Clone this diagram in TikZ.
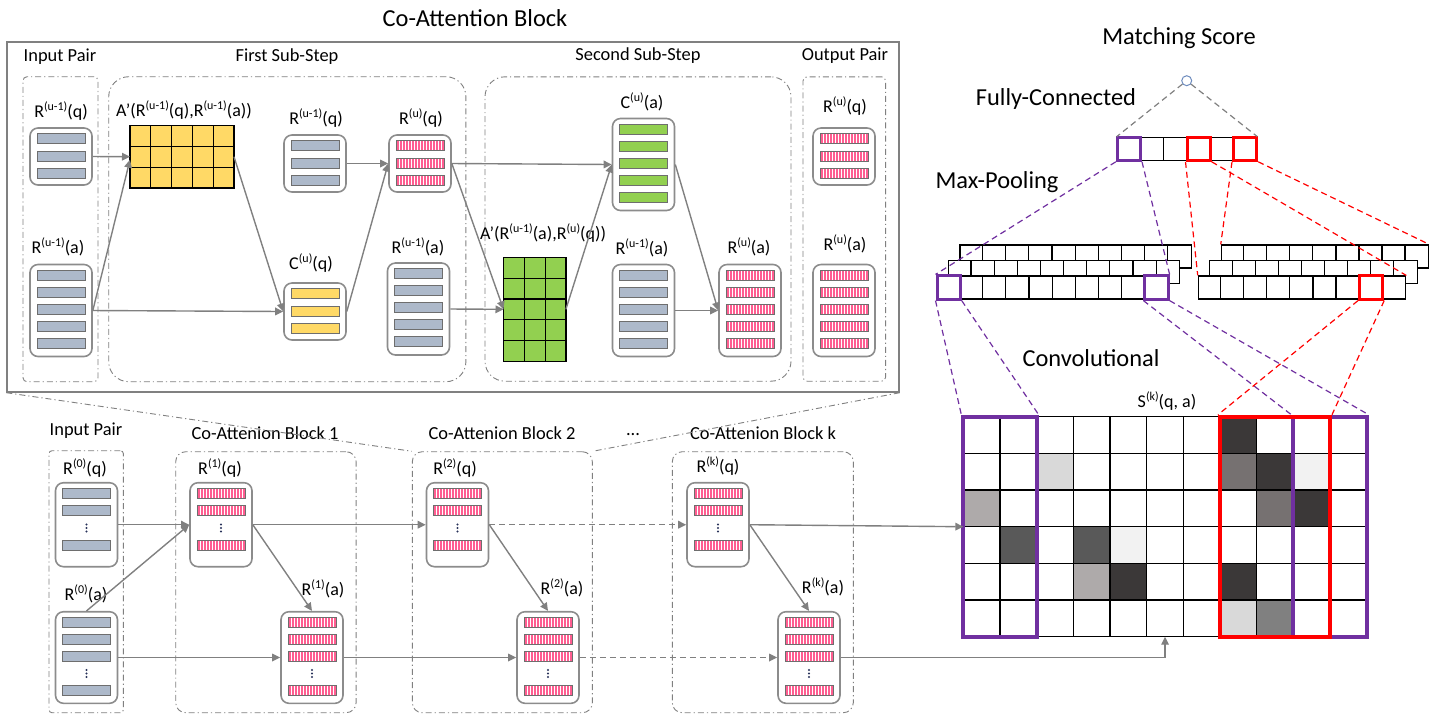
\documentclass[tikz,border=0pt]{standalone}
\usepackage{fontspec}
\setmainfont{Carlito}
\usetikzlibrary{arrows.meta,positioning,calc}
\definecolor{linegray}{RGB}{128,128,128}
\definecolor{boxgray}{RGB}{140,140,140}
\definecolor{bargray}{RGB}{173,185,202}
\definecolor{barline}{RGB}{110,110,110}
\definecolor{yelc}{RGB}{255,217,102}
\definecolor{grnc}{RGB}{146,208,80}
\definecolor{pinkc}{RGB}{255,94,145}
\definecolor{purc}{RGB}{112,48,160}
\definecolor{redc}{RGB}{255,0,0}
\definecolor{dotc}{RGB}{40,50,90}
\definecolor{circc}{RGB}{110,140,190}
\definecolor{sA}{RGB}{59,56,56}
\definecolor{sB}{RGB}{118,113,113}
\definecolor{sC}{RGB}{174,170,170}
\definecolor{sD}{RGB}{217,217,217}
\definecolor{sE}{RGB}{242,242,242}
\definecolor{sF}{RGB}{89,89,89}
\definecolor{sG}{RGB}{128,128,128}
\newcommand{\sps}[1]{\raisebox{0.42em}{\fontsize{6}{6}\selectfont(#1)}}
\newcommand{\rlab}[3]{#1\sps{#2}(#3)}
% bars inside a vector box: box name, bar style, offsets from top (px)
\newcommand{\barsin}[3]{\foreach \bo in {#3}{\node[#2, anchor=north] at ([yshift=-\bo*0.5pt]#1.north) {};}}
% three dots for the elided rows
\newcommand{\dotsin}[2]{\foreach \dd in {-3.5,0,3.5}{\fill[dotc] ([yshift=-(#2+\dd)*0.5pt]#1.north) circle (0.55pt);}}

\begin{document}
\begin{tikzpicture}[x=0.5pt, y=-0.5pt, >={Triangle[length=4pt,width=3.8pt]},
  lbl/.style={font=\fontsize{9}{10}\selectfont, inner sep=1pt},
  seclbl/.style={font=\fontsize{9.2}{11}\selectfont, inner sep=1pt},
  biglbl/.style={font=\fontsize{12.2}{14}\selectfont, inner sep=1pt},
  cont/.style={draw=linegray, line width=0.45pt, dash pattern=on 3pt off 1.5pt on 0.6pt off 1.5pt, inner sep=0pt},
  vbox/.style={draw=boxgray, line width=0.8pt, rounded corners=4pt, fill=white, minimum width=31pt, inner sep=0pt},
  bar/.style={draw=barline, line width=0.5pt, minimum width=24pt, minimum height=5pt, inner sep=0pt, outer sep=0pt},
  gbar/.style={bar, fill=bargray},
  ybar/.style={bar, fill=yelc},
  nbar/.style={bar, fill=grnc},
  pbar/.style={bar, fill=pinkc, path picture={\foreach \s in {1,...,15}{\draw[white, line width=0.35pt] ([xshift=\s*1.5pt]path picture bounding box.south west) -- ([xshift=\s*1.5pt]path picture bounding box.north west);}}},
  mat/.style={draw=black, line width=0.6pt, inner sep=0pt, outer sep=0pt},
  flow/.style={draw=linegray, line width=0.7pt, ->},
  zoomln/.style={draw=linegray, line width=0.45pt, dash pattern=on 3pt off 1.5pt on 0.6pt off 1.5pt},
  cellrow/.style={draw=black, fill=white, line width=0.6pt, minimum height=11.5pt, inner sep=0pt},
  sqp/.style={draw=purc, line width=1.5pt, minimum size=11.6pt, inner sep=0pt},
  sqr/.style={draw=redc, line width=1.5pt, minimum size=11.6pt, inner sep=0pt},
  gdash/.style={draw=linegray, line width=0.6pt, dash pattern=on 3pt off 2pt},
  pdash/.style={draw=purc, line width=0.6pt, dash pattern=on 3pt off 2pt},
  rdash/.style={draw=redc, line width=0.6pt, dash pattern=on 3pt off 2pt}]
\useasboundingbox (0,0) rectangle (1434,720);

% ---- co-attention block (detail)
\node[biglbl] (tcab) at (475,18) {Co-Attention Block};
\node[draw=linegray, line width=0.7pt, minimum width=446pt, minimum height=175pt, inner sep=0pt] (cab) at (453,217) {};
\node[cont, rounded corners=2pt, minimum width=37.5pt, minimum height=152.5pt] (ipair) at (60.5,229.2) {};
\node[cont, rounded corners=10pt, minimum width=178.6pt, minimum height=152.5pt] (fsub) at (287.3,229.2) {};
\node[cont, rounded corners=10pt, minimum width=153pt, minimum height=152.2pt] (ssub) at (638,229) {};
\node[cont, rounded corners=2pt, minimum width=41.3pt, minimum height=152.2pt] (opair) at (844.3,229) {};
\node[seclbl] (tipair) at (60,57) {Input Pair};
\node[seclbl] (tfsub) at (287,57) {First Sub-Step};
\node[seclbl] (tssub) at (638,56) {Second Sub-Step};
\node[seclbl] (topair) at (845,56) {Output Pair};

\node[vbox, minimum height=28.5pt] (rq0) at (61,156.5) {};
\node[vbox, minimum height=46pt] (ra0) at (61,310.5) {};
\node[vbox, minimum height=28.5pt] (rq1) at (315,163.5) {};
\node[vbox, minimum height=28.5pt] (ruq) at (420,163.5) {};
\node[vbox, minimum height=28.5pt] (cq) at (315,311.5) {};
\node[vbox, minimum height=46pt] (ra1) at (418.5,309) {};
\node[vbox, minimum height=46pt] (ca) at (643.5,164.5) {};
\node[vbox, minimum height=46pt] (ra2) at (643.5,310.5) {};
\node[vbox, minimum height=46pt] (rua) at (750,310.5) {};
\node[vbox, minimum height=28.5pt] (oq) at (844,156.5) {};
\node[vbox, minimum height=46pt] (oa) at (844,310.5) {};
\barsin{rq0}{gbar}{6.5,24,41.5}
\barsin{ra0}{gbar}{6.5,23.5,40.5,57.5,74.5}
\barsin{rq1}{gbar}{6.5,24,41.5}
\barsin{ruq}{pbar}{6.5,24,41.5}
\barsin{cq}{ybar}{6.5,24,41.5}
\barsin{ra1}{gbar}{6.5,23.5,40.5,57.5,74.5}
\barsin{ca}{nbar}{6.5,23.5,40.5,57.5,74.5}
\barsin{ra2}{gbar}{6.5,23.5,40.5,57.5,74.5}
\barsin{rua}{pbar}{6.5,23.5,40.5,57.5,74.5}
\barsin{oq}{pbar}{6.5,24,41.5}
\barsin{oa}{pbar}{6.5,23.5,40.5,57.5,74.5}

\node[mat, fill=yelc, minimum width=52pt, minimum height=31.2pt] (att1) at (182,156.7) {};
\foreach \i in {1,...,4} \draw[line width=0.6pt] ([xshift=\i*10.4pt]att1.south west) -- ([xshift=\i*10.4pt]att1.north west);
\foreach \j in {1,2} \draw[line width=0.6pt] ([yshift=\j*10.4pt]att1.south west) -- ([yshift=\j*10.4pt]att1.south east);
\node[mat, fill=grnc, minimum width=31.2pt, minimum height=52pt] (att2) at (534.7,309.3) {};
\foreach \i in {1,2} \draw[line width=0.6pt] ([xshift=\i*10.4pt]att2.south west) -- ([xshift=\i*10.4pt]att2.north west);
\foreach \j in {1,...,4} \draw[line width=0.6pt] ([yshift=\j*10.4pt]att2.south west) -- ([yshift=\j*10.4pt]att2.south east);

\node[lbl] (lrq0) at (61,111) {\rlab{R}{u-1}{q}};
\node[lbl] (lra0) at (58,247) {\rlab{R}{u-1}{a}};
\node[lbl] (latt1) at (184,110) {A’(\rlab{R}{u-1}{q},\rlab{R}{u-1}{a})};
\node[lbl] (lrq1) at (316,118) {\rlab{R}{u-1}{q}};
\node[lbl] (lruq) at (421,118) {\rlab{R}{u}{q}};
\node[lbl] (lcq) at (311,263) {\rlab{C}{u}{q}};
\node[lbl] (lra1) at (418,247) {\rlab{R}{u-1}{a}};
\node[lbl] (lca) at (642,102) {\rlab{C}{u}{a}};
\node[lbl] (latt2) at (543,233) {A’(\rlab{R}{u-1}{a},\rlab{R}{u}{q})};
\node[lbl] (lra2) at (642,248) {\rlab{R}{u-1}{a}};
\node[lbl] (lrua) at (749,247) {\rlab{R}{u}{a}};
\node[lbl] (loq) at (845,106) {\rlab{R}{u}{q}};
\node[lbl] (loa) at (845,244) {\rlab{R}{u}{a}};

\draw[flow] (rq0.east) -- (att1.west);
\draw[flow] (ra0.east) -- ([yshift=-1.5pt]att1.west);
\draw[flow] (ra0.east) -- (cq.west);
\draw[flow] (att1.east) -- (cq.west);
\draw[flow] (cq.east) -- (ruq.west);
\draw[flow] (rq1.east) -- (ruq.west);
\draw[flow] (ruq.east) -- (ca.west);
\draw[flow] (ruq.east) -- (att2.west);
\draw[flow] (ra1.east) -- (att2.west);
\draw[flow] (att2.east) -- (ca.west);
\draw[flow] (ca.east) -- (rua.west);
\draw[flow] (ra2.east) -- (rua.west);

% ---- stack of blocks
\node[cont, rounded corners=1.5pt, minimum width=37.2pt, minimum height=131pt] (bip) at (86.2,581.7) {};
\node[cont, rounded corners=5pt, minimum width=90.2pt, minimum height=130.5pt] (blk1) at (265.9,582.2) {};
\node[cont, rounded corners=5pt, minimum width=90pt, minimum height=130.5pt] (blk2) at (502.3,582.2) {};
\node[cont, rounded corners=5pt, minimum width=90.5pt, minimum height=130.5pt] (blkk) at (762.8,582.2) {};
\node[seclbl] (tbip) at (86,431) {Input Pair};
\node[seclbl] (tblk1) at (265,433) {Co-Attenion Block 1};
\node[seclbl] (tblk2) at (502,433) {Co-Attenion Block 2};
\node[seclbl] (tdots) at (633,435) {...};
\node[seclbl] (tblkk) at (763,433) {Co-Attenion Block k};
\draw[zoomln] (cab.south west) -- (blk2.north west);
\draw[zoomln] (cab.south east) -- (blk2.north east);

\node[vbox, minimum height=42pt] (b0q) at (86.5,524.7) {};
\node[vbox, minimum height=45.8pt] (b0a) at (86.5,657.5) {};
\node[vbox, minimum height=42pt] (b1q) at (221,524.7) {};
\node[vbox, minimum height=45.8pt] (b1a) at (312,657.5) {};
\node[vbox, minimum height=42pt] (b2q) at (457.5,524.7) {};
\node[vbox, minimum height=45.8pt] (b2a) at (548,657.5) {};
\node[vbox, minimum height=42pt] (bkq) at (718,524.7) {};
\node[vbox, minimum height=45.8pt] (bka) at (809,657.5) {};
\barsin{b0q}{gbar}{6.6,24,59} \dotsin{b0q}{46}
\barsin{b0a}{gbar}{6.6,23.3,40.6,75} \dotsin{b0a}{62.5}
\foreach \b in {b1q,b2q,bkq}{\barsin{\b}{pbar}{6.6,24,59} \dotsin{\b}{46}}
\foreach \b in {b1a,b2a,bka}{\barsin{\b}{pbar}{6.6,23.3,40.6,75} \dotsin{\b}{62.5}}

\node[lbl] (lb0q) at (85,468) {\rlab{R}{0}{q}};
\node[lbl] (lb0a) at (86,594) {\rlab{R}{0}{a}};
\node[lbl] (lb1q) at (220,468) {\rlab{R}{1}{q}};
\node[lbl] (lb1a) at (323,589) {\rlab{R}{1}{a}};
\node[lbl] (lb2q) at (455,468) {\rlab{R}{2}{q}};
\node[lbl] (lb2a) at (562,588) {\rlab{R}{2}{a}};
\node[lbl] (lbkq) at (718,466) {\rlab{R}{k}{q}};
\node[lbl] (lbka) at (823,587) {\rlab{R}{k}{a}};

\draw[flow] (b0q.east) -- (b1q.west);
\draw[flow] (b0a.north) -- (b1q.west);
\draw[flow] (b0a.east) -- (b1a.west);
\draw[flow] (b1q.east) -- (b2q.west);
\draw[flow] (b1q.east) -- (b1a.north);
\draw[flow] (b1a.east) -- (b2a.west);
\draw[flow] (b2q.east) -- (b2a.north);
\draw[flow, dash pattern=on 3pt off 2pt] (b2q.east) -- (bkq.west);
\draw[flow, dash pattern=on 3pt off 2pt] (b2a.east) -- (bka.west);
\draw[flow] (bkq.east) -- (bka.north);

% ---- matching layers
\node[biglbl] (tms) at (1179,38) {Matching Score};
\node[biglbl] (tfc) at (1056,99) {Fully-Connected};
\node[biglbl] (tmp) at (997,182) {Max-Pooling};
\node[biglbl] (tconv) at (1091,358) {Convolutional};
\node[circle, draw=circc, fill=white, line width=0.5pt, minimum size=5pt, inner sep=0pt] (ms) at (1186.7,80.7) {};
\node[cellrow, minimum width=69.7pt] (fcrow) at (1187,148.7) {};
\foreach \i in {1,...,5} \draw[line width=0.6pt] ([xshift=\i*11.617pt]fcrow.south west) -- ([xshift=\i*11.617pt]fcrow.north west);
\node[sqp] (fc1) at (1128.9,148.7) {};
\node[sqr] (fc4) at (1198.6,148.7) {};
\node[sqr] (fc6) at (1245.1,148.7) {};
\draw[gdash] (ms) -- (fcrow.north west);
\draw[gdash] (ms) -- (fcrow.north east);

\foreach \k/\dx/\dy in {2/23/31, 1/11.5/15.5, 0/0/0}{
  \node[cellrow, minimum width=115.65pt] (lrow\k) at (1052.7+\dx,287.5-\dy) {};
  \foreach \i in {1,...,9} \draw[line width=0.6pt] ([xshift=\i*11.565pt]lrow\k.south west) -- ([xshift=\i*11.565pt]lrow\k.north west);
  \node[cellrow, minimum width=103.68pt] (rrow\k) at (1302+\dx,287.5-\dy) {};
  \foreach \i in {1,...,8} \draw[line width=0.6pt] ([xshift=\i*11.52pt]rrow\k.south west) -- ([xshift=\i*11.52pt]rrow\k.north west);
}
\node[sqp] (pl1) at (948.6,287.5) {};
\node[sqp] (pl10) at (1156.5,287.5) {};
\node[sqr] (pr8) at (1371.1,287.5) {};
\draw[pdash] (fc1.south west) -- (pl1.north west);
\draw[pdash] (fc1.south east) -- (pl10.north east);
\draw[rdash] (fc4.south west) -- (rrow0.north west);
\draw[rdash] (fc4.south east) -- (rrow0.north east);
\draw[rdash] (fc6.south west) -- (rrow2.north west);
\draw[rdash] (fc6.south east) -- (rrow2.north east);

\node[lbl] (lsk) at (1167,401) {\rlab{S}{k}{q, a}};
\node[inner sep=0pt, outer sep=0pt, minimum width=201.67pt, minimum height=110pt] (sgrid) at (1165,526.7) {};
\foreach \c/\r/\f in {7/0/sA, 2/1/sD, 7/1/sB, 8/1/sA, 9/1/sE, 0/2/sC, 8/2/sB, 9/2/sA, 1/3/sF, 3/3/sF, 4/3/sE, 3/4/sC, 4/4/sA, 7/4/sA, 7/5/sD, 8/5/sG}
  \fill[\f] ([shift={(\c*36.667,\r*36.667)}]sgrid.north west) rectangle ++(36.667,36.667);
\foreach \i in {1,...,10} \draw[line width=0.6pt] ([xshift=\i*18.333pt]sgrid.north west) -- ([xshift=\i*18.333pt]sgrid.south west);
\foreach \j in {1,...,5} \draw[line width=0.6pt] ([yshift=-\j*18.333pt]sgrid.north west) -- ([yshift=-\j*18.333pt]sgrid.north east);
\draw[line width=0.6pt] (sgrid.north west) rectangle (sgrid.south east);
\node[draw=purc, line width=2pt, minimum width=36.667pt, minimum height=110pt, inner sep=0pt] (sp1) at (1000,526.7) {};
\node[draw=purc, line width=2pt, minimum width=36.667pt, minimum height=110pt, inner sep=0pt] (sp2) at (1330,526.7) {};
\node[draw=redc, line width=2pt, minimum width=55pt, minimum height=110pt, inner sep=0pt] (sr) at (1275,526.7) {};
\draw[pdash] (pl1.south west) -- (sp1.north west);
\draw[pdash] (pl1.south east) -- (sp1.north east);
\draw[pdash] (pl10.south west) -- (sp2.north west);
\draw[pdash] (pl10.south east) -- (sp2.north east);
\draw[rdash] (pr8.south west) -- (sr.north west);
\draw[rdash] (pr8.south east) -- (sr.north east);

\draw[flow] (bkq.east) -- (sgrid.west);
\draw[flow] (bka.east) -| (sgrid.south);
\end{tikzpicture}
\end{document}
